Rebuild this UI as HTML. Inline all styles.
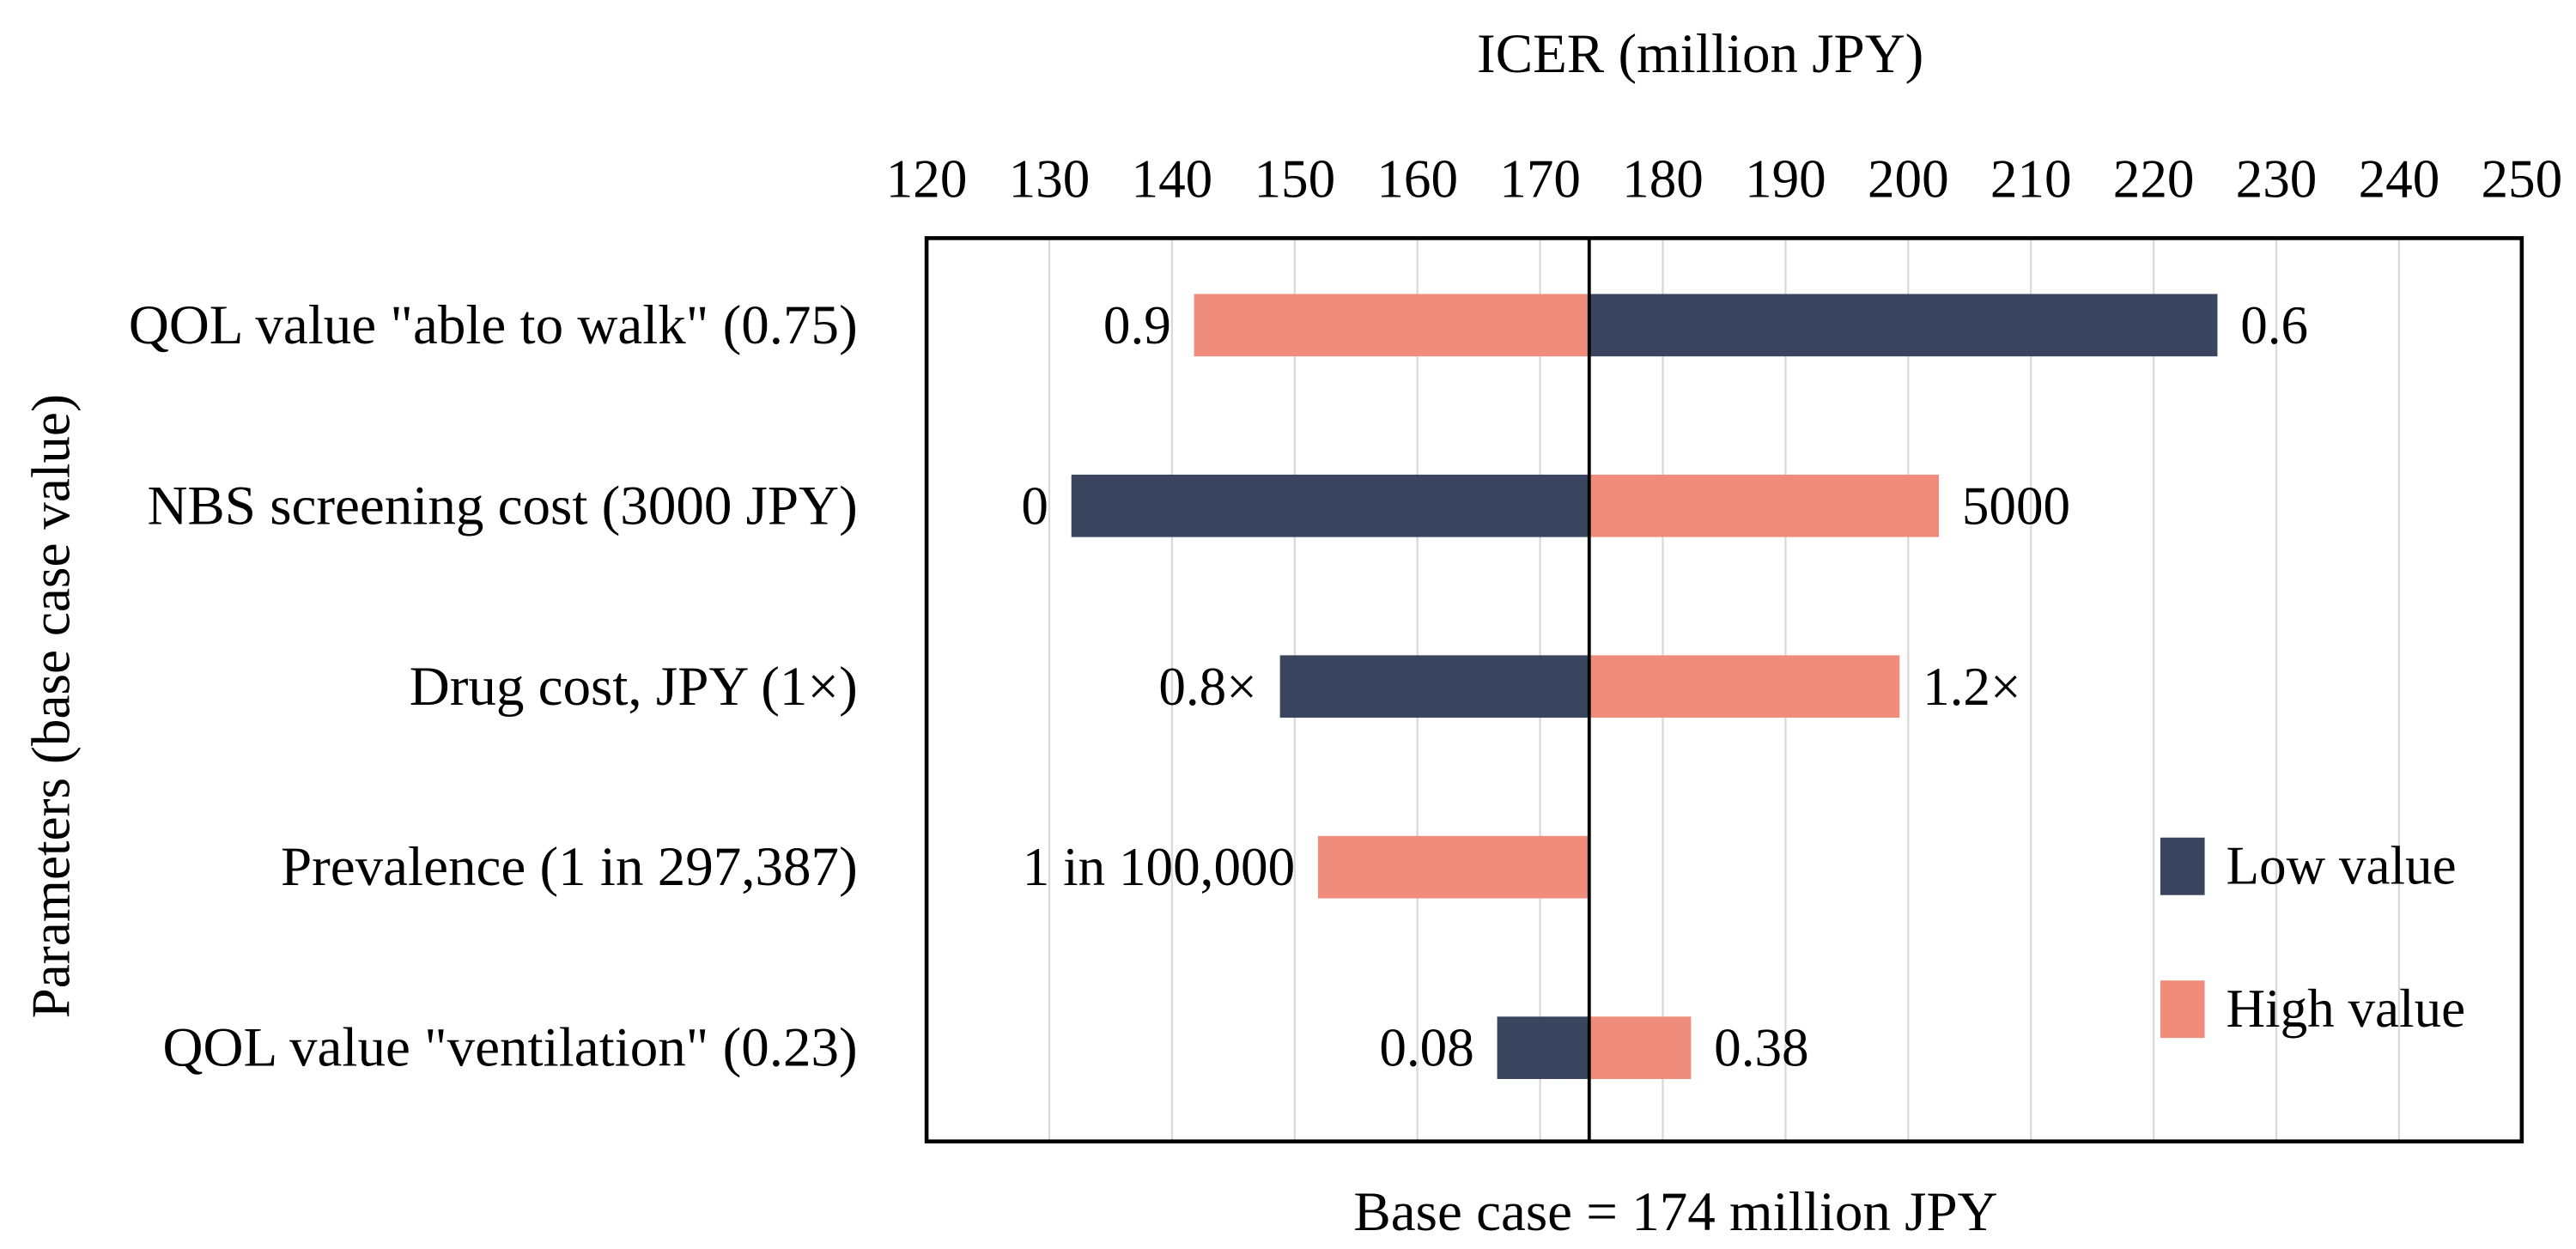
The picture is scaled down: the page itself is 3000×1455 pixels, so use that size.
<!DOCTYPE html>
<html><head><meta charset="utf-8"><style>html,body{margin:0;padding:0;background:#fff}svg{display:block}text{font-family:"Liberation Serif",serif;fill:#000}</style></head>
<body>
<svg id="chart" width="3000" height="1455" viewBox="0 0 1568 760.5" xmlns="http://www.w3.org/2000/svg">
<text x="1035" y="44" font-size="34" text-anchor="middle">ICER (million JPY)</text>
<text transform="translate(42,430) rotate(-90)" font-size="33" text-anchor="middle">Parameters (base case value)</text>
<text x="1020" y="749" font-size="34" text-anchor="middle">Base case = 174 million JPY</text>
<g id="grid"></g><g id="bars"></g><g id="labels"></g>
<rect x="564" y="145" width="971" height="550" fill="none" stroke="#000" stroke-width="2.4"/>
<g id="legend">
<rect x="1315" y="510" width="27" height="35" fill="#39445e"/>
<text x="1355" y="538" font-size="33">Low value</text>
<rect x="1315" y="597" width="27" height="35" fill="#f08c7b"/>
<text x="1355" y="625" font-size="33">High value</text>
</g>
</svg>
<script>
const categories = ['QOL value "able to walk" (0.75)','NBS screening cost (3000 JPY)','Drug cost, JPY (1\u00d7)','Prevalence (1 in 297,387)','QOL value "ventilation" (0.23)'];
const baseCase = 174;
const lowValues = [225.2, 131.8, 148.8, null, 166.5];
const highValues = [141.8, 202.5, 199.3, 151.9, 182.3];
const lowLabels = ['0.6','0','0.8\u00d7','','0.08'];
const highLabels = ['0.9','5000','1.2\u00d7','1 in 100,000','0.38'];
const ticks = [120,130,140,150,160,170,180,190,200,210,220,230,240,250];

const NS='http://www.w3.org/2000/svg';
const x0=564,x1=1535,vmin=120,vmax=250;
const xs=v=>x0+(v-vmin)*(x1-x0)/(vmax-vmin);
const rowY=i=>198+i*110;
const barH=38;
function mk(tag,attrs,parent){const e=document.createElementNS(NS,tag);for(const k in attrs)e.setAttribute(k,attrs[k]);parent.appendChild(e);return e;}
const svg=document.getElementById('chart');
const grid=document.getElementById('grid'),bars=document.getElementById('bars'),labels=document.getElementById('labels');
ticks.forEach(t=>{
  if(t>vmin&&t<vmax){const l=mk('line',{x1:xs(t),x2:xs(t),y1:146,y2:694,stroke:'#d9d9d9','stroke-width':1.2},grid);
  
  }
  const tx=mk('text',{x:xs(t),y:120,'font-size':33,'text-anchor':'middle'},labels);
  tx.textContent=t;
  
  
});
categories.forEach((c,i)=>{
  const y=rowY(i);
  const cl=mk('text',{x:522,y:y+11,'font-size':34,'text-anchor':'end'},labels);
  cl.textContent=c;
  
  
  [[lowValues[i],lowLabels[i],'#39445e','low'],[highValues[i],highLabels[i],'#f08c7b','high']].forEach(([v,lab,col,kind])=>{
    if(v==null)return;
    const a=Math.min(xs(v),xs(baseCase)),b=Math.max(xs(v),xs(baseCase));
    const r=mk('rect',{x:a,y:y-barH/2,width:b-a,height:barH,fill:col},bars);
    
    
    const left=v<baseCase;
    const t=mk('text',{x:left?a-14:b+14,y:y+11,'font-size':33,'text-anchor':left?'end':'start'},labels);
    t.textContent=lab;
    
    
  });
});
const bl=mk('line',{x1:xs(baseCase),x2:xs(baseCase),y1:145,y2:695,stroke:'#000','stroke-width':2},svg);


</script>
</body></html>
